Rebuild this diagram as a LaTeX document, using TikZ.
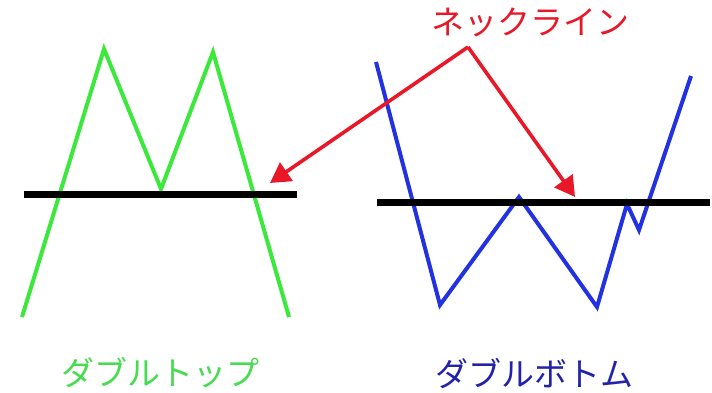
\documentclass[tikz,border=0pt]{standalone}
\usepackage{fontspec}
\newfontfamily\jpfont{Noto Sans CJK JP}
\usetikzlibrary{arrows.meta}
\definecolor{lgreen}{RGB}{60,232,60}
\definecolor{tgreen}{RGB}{70,220,80}
\definecolor{lblue}{RGB}{35,50,225}
\definecolor{tblue}{RGB}{35,35,170}
\definecolor{nred}{RGB}{232,24,40}
\tikzset{
  greenline/.style={draw=lgreen,line width=4pt,line join=miter},
  blueline/.style={draw=lblue,line width=4pt,line join=miter},
  neckline/.style={draw=black,line width=7pt},
  redarrow/.style={draw=nred,line width=3.6pt,-{Triangle[length=20pt,width=22pt]}},
  label/.style={font=\jpfont\fontsize{33}{38}\selectfont,inner sep=0pt}
}
\begin{document}
\begin{tikzpicture}[x=1pt,y=-1pt]
\useasboundingbox (0,0) rectangle (712,393);
% double top
\draw[greenline] (22,317) -- (104,49) -- (161,189) -- (213,52) -- (289,317);
\draw[neckline] (24,194) -- (297,194);
% double bottom
\draw[blueline] (376,62) -- (440,305) -- (519,197) -- (597,307) -- (627,204) -- (639,230) -- (691,76);
\draw[neckline] (377,202) -- (710,202);
% arrows
\coordinate (apex) at (468,47);
\coordinate (tipL) at (270,183);
\coordinate (tipR) at (575,197);
\draw[redarrow] (apex) -- (tipL);
\draw[redarrow] (apex) -- (tipR);
% labels
\node[label,text=nred] (nl) at (530,22) {ネックライン};
\node[label,text=tgreen] (dt) at (160,373) {ダブルトップ};
\node[label,text=tblue] (db) at (534,373) {ダブルボトム};
\end{tikzpicture}
\end{document}
